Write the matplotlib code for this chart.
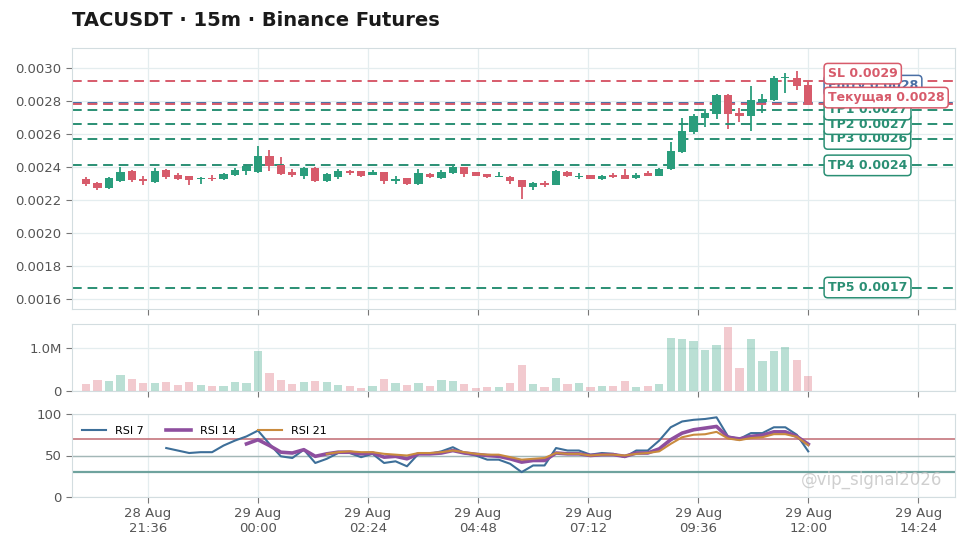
import numpy as np
import pandas as pd
import matplotlib
matplotlib.use("Agg")
import matplotlib.pyplot as plt
import matplotlib.dates as mdates
from matplotlib.ticker import FixedLocator, FuncFormatter, MultipleLocator

# --- data ---
times = pd.date_range("2025-08-28 20:15", periods=64, freq="15min")

opens = [0.0023301, 0.0023018, 0.0022740, 0.0023181, 0.0023742, 0.0023301, 0.0023078, 0.0023826,
         0.0023543, 0.0023440, 0.0023259, 0.0023362, 0.0023283, 0.0023525, 0.0023766, 0.0023724,
         0.0024647, 0.0024128, 0.0023681, 0.0023482, 0.0023947, 0.0023138, 0.0023380, 0.0023742,
         0.0023742, 0.0023543, 0.0023681, 0.0023181, 0.0023319, 0.0022981, 0.0023585, 0.0023343,
         0.0023621, 0.0023983, 0.0023681, 0.0023585, 0.0023422, 0.0023422, 0.0023223, 0.0022776,
         0.0023018, 0.0022939, 0.0023681, 0.0023422, 0.0023525, 0.0023283, 0.0023525, 0.0023525,
         0.0023343, 0.0023621, 0.0023482, 0.0023887, 0.0024888, 0.0026095, 0.0026964, 0.0027206,
         0.0028352, 0.0027302, 0.0027103, 0.0027966, 0.0028050, 0.0029378, 0.0029378, 0.0028974]
highs = [0.0023422, 0.0023120, 0.0023422, 0.0024025, 0.0023844, 0.0023482, 0.0023923, 0.0023905,
         0.0023645, 0.0023482, 0.0023422, 0.0023525, 0.0023663, 0.0023965, 0.0024116, 0.0025293,
         0.0025051, 0.0024587, 0.0023887, 0.0024025, 0.0023995, 0.0023663, 0.0023887, 0.0023844,
         0.0023784, 0.0023826, 0.0023724, 0.0023482, 0.0023362, 0.0023887, 0.0023621, 0.0023826,
         0.0024086, 0.0024025, 0.0023724, 0.0023603, 0.0023681, 0.0023452, 0.0023241, 0.0023120,
         0.0023138, 0.0023844, 0.0023784, 0.0023621, 0.0023543, 0.0023543, 0.0023621, 0.0023887,
         0.0023645, 0.0023784, 0.0023935, 0.0025492, 0.0027000, 0.0027242, 0.0027507, 0.0028431,
         0.0028449, 0.0027568, 0.0028913, 0.0028412, 0.0029517, 0.0029716, 0.0029819, 0.0029215]
lows = [0.0022879, 0.0022637, 0.0022698, 0.0023120, 0.0023120, 0.0022939, 0.0023060, 0.0023283,
        0.0023241, 0.0022939, 0.0022981, 0.0023138, 0.0023241, 0.0023482, 0.0023525, 0.0023663,
        0.0023784, 0.0023543, 0.0023380, 0.0023301, 0.0023120, 0.0023090, 0.0023283, 0.0023525,
        0.0023380, 0.0023512, 0.0022981, 0.0022981, 0.0022939, 0.0022939, 0.0023343, 0.0023301,
        0.0023573, 0.0023380, 0.0023440, 0.0023343, 0.0023404, 0.0022981, 0.0022076, 0.0022619,
        0.0022776, 0.0022909, 0.0023380, 0.0023259, 0.0023259, 0.0023241, 0.0023362, 0.0023259,
        0.0023301, 0.0023452, 0.0023452, 0.0023844, 0.0024870, 0.0025999, 0.0026397, 0.0026904,
        0.0026300, 0.0026699, 0.0026198, 0.0027302, 0.0028008, 0.0028509, 0.0028654, 0.0027767]
closes = [0.0022999, 0.0022740, 0.0023319, 0.0023724, 0.0023223, 0.0023138, 0.0023784, 0.0023422,
          0.0023283, 0.0023223, 0.0023362, 0.0023301, 0.0023585, 0.0023844, 0.0024043, 0.0024647,
          0.0024043, 0.0023585, 0.0023525, 0.0023947, 0.0023181, 0.0023585, 0.0023784, 0.0023621,
          0.0023482, 0.0023724, 0.0023181, 0.0023301, 0.0022981, 0.0023621, 0.0023380, 0.0023681,
          0.0024025, 0.0023585, 0.0023482, 0.0023380, 0.0023482, 0.0023138, 0.0022776, 0.0023018,
          0.0022897, 0.0023754, 0.0023482, 0.0023482, 0.0023283, 0.0023482, 0.0023380, 0.0023283,
          0.0023525, 0.0023482, 0.0023887, 0.0024949, 0.0026198, 0.0027103, 0.0027302, 0.0028352,
          0.0027206, 0.0027103, 0.0028050, 0.0028111, 0.0029414, 0.0029456, 0.0028913, 0.0027845]
volumes = [160000, 260000, 230000, 370000, 280000, 190000, 190000, 210000,
           140000, 210000, 140000, 120000, 120000, 210000, 190000, 910000,
           420000, 260000, 160000, 210000, 230000, 210000, 140000, 120000,
           70000, 120000, 280000, 190000, 140000, 190000, 120000, 260000,
           230000, 160000, 70000, 90000, 90000, 190000, 590000, 160000,
           100000, 310000, 160000, 190000, 100000, 120000, 120000, 240000,
           90000, 120000, 160000, 1220000, 1190000, 1160000, 950000, 1050000,
           1470000, 520000, 1190000, 700000, 910000, 1010000, 720000, 350000]

rsi7_vals = [59, 56, 53, 54, 54, 62, 68, 73, 80, 64, 49, 47, 57, 41, 46, 53, 53, 48, 52, 41,
             43, 37, 52, 52, 55, 60, 53, 50, 45, 45, 40, 30, 38, 38, 59, 56, 56, 51, 53, 52,
             48, 56, 56, 68, 84, 91, 93, 94, 96, 73, 70, 77, 77, 84, 84, 75, 55]
rsi14_vals = [64, 69, 62, 54, 53, 57, 49, 52, 54, 54, 52, 53, 48, 49, 46, 52, 52, 53, 56, 53,
              51.5, 50, 49, 46, 42, 44, 44, 53, 52, 52, 50, 51, 51, 49, 53, 53, 58, 69, 77, 81,
              83, 85, 72, 70, 73, 74.5, 78.5, 78.5, 73, 63.6]
rsi21_vals = [52, 54, 55, 54, 54, 52, 51, 50, 53, 53, 54, 56, 54, 52, 51, 51, 48, 45, 46, 47,
              53, 52, 52, 50, 51, 51, 50, 52, 53, 55, 64, 72, 75, 75.6, 78.5, 70.5, 68.5, 71,
              72, 75.7, 75.7, 72.5, 62.4]

sl_price = 0.00292
entry_price = 0.00279
tp_prices = [0.002748, 0.00266, 0.00257, 0.00241, 0.00167]

# --- style ---
GREEN = "#2a9d7c"
RED = "#d75b6b"
BLUE = "#4a6fa5"
GRID = "#e4edef"
SPINE = "#d3dde0"
TXT = "#555555"

x = mdates.date2num(times)
step = 1 / 96
o, h, l, c = map(np.array, (opens, highs, lows, closes))
up = c >= o
cols = np.where(up, GREEN, RED)

fig = plt.figure(figsize=(9.71, 5.48), dpi=100)
L, W = 72 / 971, 883 / 971
ax = fig.add_axes([L, 1 - 309 / 548, W, 261 / 548])
axv = fig.add_axes([L, 1 - 391 / 548, W, 67 / 548], sharex=ax)
axr = fig.add_axes([L, 1 - 497 / 548, W, 83 / 548], sharex=ax)

for a in (ax, axv, axr):
    a.set_axisbelow(True)
    a.grid(True, color=GRID, lw=0.9)
    for s in a.spines.values():
        s.set_color(SPINE)
    a.tick_params(colors=TXT, labelsize=9.5, length=4, width=0.8)
    a.tick_params(axis="both", color="#777777")

# candles
ax.vlines(x, l, h, colors=cols, lw=1.3, zorder=2)
body = np.maximum(np.abs(c - o), 0.000004)
ax.bar(x, body, width=step * 0.72, bottom=np.minimum(o, c), color=cols, zorder=3)
ax.set_ylim(0.00154, 0.003121)
ax.yaxis.set_major_locator(MultipleLocator(0.0002))
ax.yaxis.set_major_formatter(FuncFormatter(lambda v, p: f"{v:.4f}"))

# levels
current_price = closes[-1]
levels = [("SL", sl_price, RED, 6), ("Entry", entry_price, BLUE, 4), ("Текущая", current_price, RED, 7)]
levels += [(f"TP{i+1}", p, "#2a8f74", 5) for i, p in enumerate(tp_prices)]
for name, p, col, z in levels:
    ax.axhline(p, color=col, lw=1.4, ls=(0, (5, 3)), zorder=z - 3 if z < 5 else 2)

gap = 0.0000725
prev = -1
ty = ax.get_yaxis_transform()
for name, p, col, z in sorted(levels, key=lambda t: t[1]):
    yl = max(p, prev + gap)
    prev = yl
    ax.text(0.856, yl, f"{name} {p:.4f}", transform=ty, color=col, fontsize=9, fontweight="bold",
            va="center", ha="left", zorder=z + 10,
            bbox=dict(boxstyle="round,pad=0.3", fc="white", ec=col, lw=1.1))

# volume
axv.bar(x, volumes, width=step * 0.72, color=cols, alpha=0.32)
axv.set_ylim(0, max(volumes) * 1.05)
axv.yaxis.set_major_locator(MultipleLocator(1e6))
axv.yaxis.set_major_formatter(FuncFormatter(lambda v, p: "0" if v == 0 else f"{v/1e6:.1f}M"))

# rsi
rsi7 = [np.nan] * 7 + rsi7_vals
rsi14 = [np.nan] * 14 + rsi14_vals
rsi21 = [np.nan] * 21 + rsi21_vals
axr.axhline(70, color="#c98087", lw=1.3)
axr.axhline(50, color="#a3b7b7", lw=1.0)
axr.axhline(30, color="#6fa39e", lw=1.6)
axr.plot(x, rsi7, color="#3d6f99", lw=1.5, label="RSI 7")
axr.plot(x, rsi14, color="#8e4f9f", lw=2.6, label="RSI 14")
axr.plot(x, rsi21, color="#c98b3e", lw=1.5, label="RSI 21")
axr.set_ylim(0, 100)
axr.set_yticks([0, 50, 100])
axr.legend(loc="upper left", ncol=3, frameon=False, fontsize=8, handlelength=2.2,
           columnspacing=2.0, bbox_to_anchor=(0.0, 0.98))

ticks = mdates.date2num(pd.date_range("2025-08-28 21:36", periods=8, freq="144min"))
axr.xaxis.set_major_locator(FixedLocator(ticks))
axr.xaxis.set_major_formatter(mdates.DateFormatter("%d %b\n%H:%M"))
ax.set_xlim(x[0] - 1.22 * step, x[0] + 75.8 * step)
ax.tick_params(labelbottom=False)
axv.tick_params(labelbottom=False)

fig.text(L, 1 - 20 / 548, "TACUSDT · 15m · Binance Futures", fontsize=14, fontweight="bold",
         color="#1a1a1a", va="center", ha="left")
# watermark, moved into the empty corner of the RSI panel so it does not cover the tick labels
axr.text(0.985, 0.1, "@vip_signal2026", transform=axr.transAxes, fontsize=12, color="#c4c4c4",
         alpha=0.8, ha="right", va="bottom")

fig.savefig("out.png", dpi=100)
